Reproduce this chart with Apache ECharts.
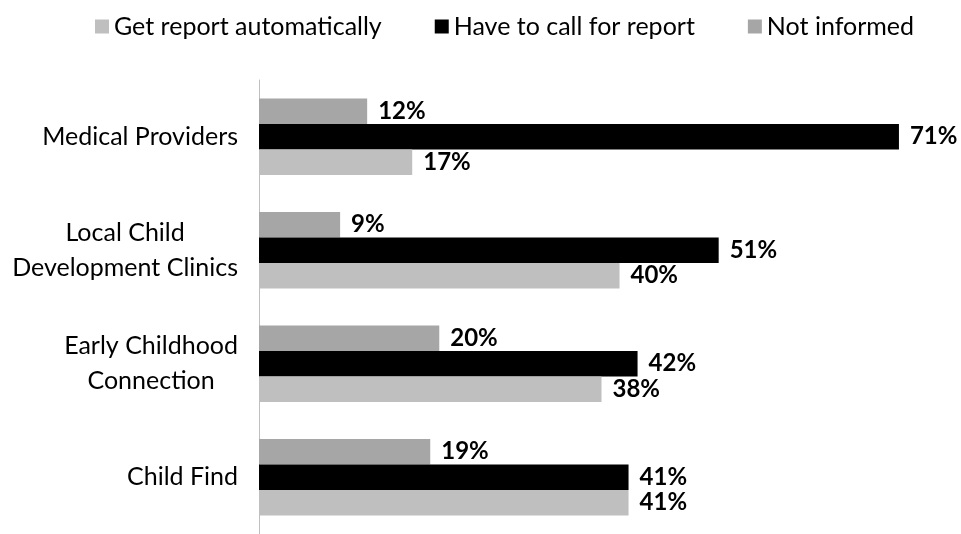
<!DOCTYPE html>
<html>
<head>
<meta charset="utf-8">
<script src="https://cdn.jsdelivr.net/npm/echarts@6/dist/echarts.min.js"></script>
<style>html,body{margin:0;padding:0;background:#fff}#c{width:961px;height:534px}</style>
</head>
<body>
<div id="c"></div>
<script>
var categories = ['Medical Providers', 'Local Child\nDevelopment Clinics', 'Early Childhood\nConnection', 'Child Find'];
var seriesNames = ['Get report automatically', 'Have to call for report', 'Not informed'];
var getReport = [17, 40, 38, 41];
var haveToCall = [71, 51, 42, 41];
var notInformed = [12, 9, 20, 19];
var colors = ['#BFBFBF', '#000000', '#A6A6A6'];

var FONT = 'Lato';
var chart = echarts.init(document.getElementById('c'), null, {renderer: 'canvas'});
function mk(name, data, color) {
  return {
    name: name, type: 'bar', data: data, barWidth: 25.5, barGap: '0%',
    itemStyle: {color: color},
    label: {show: true, position: 'right', distance: 11, formatter: '{c}%',
      fontFamily: FONT, fontWeight: 'bold', fontSize: 24, color: '#000'}
  };
}
chart.setOption({
  animation: false,
  legend: {
    data: seriesNames, top: 9, left: 90, itemWidth: 14, itemHeight: 14, itemGap: 53,
    icon: 'rect',
    textStyle: {fontFamily: FONT, fontSize: 25, color: '#000'}
  },
  grid: {left: 259, top: 80, right: 26, bottom: -3, containLabel: false},
  xAxis: {type: 'value', min: 0, max: 75, show: false},
  yAxis: {
    type: 'category', data: categories, inverse: true,
    axisLine: {show: true, lineStyle: {color: '#BFBFBF', width: 1}},
    axisTick: {show: false},
    axisLabel: {
      margin: 21, fontFamily: FONT, fontSize: 25, color: '#000', lineHeight: 35,
      formatter: function (v) { return v.split('\n').map(function (s) { return '{c|' + s + '}'; }).join('\n'); },
      rich: {c: {align: 'center', fontFamily: FONT, fontSize: 25, color: '#000', lineHeight: 35}}
    }
  },
  series: [
    mk(seriesNames[2], notInformed, colors[2]),
    mk(seriesNames[1], haveToCall, colors[1]),
    mk(seriesNames[0], getReport, colors[0])
  ]
});
</script>
</body>
</html>
